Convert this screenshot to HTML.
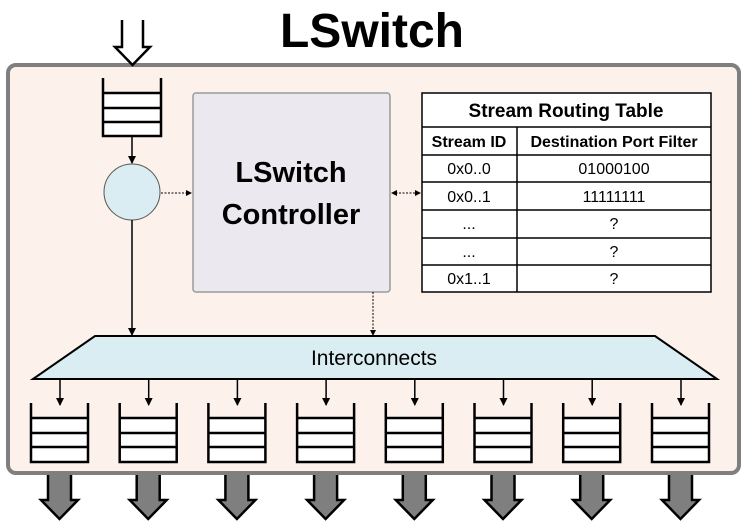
<!DOCTYPE html>
<html><head><meta charset="utf-8"><style>
html,body{margin:0;padding:0;background:#fff;}
svg{display:block;font-family:"Liberation Sans",sans-serif;}
</style></head><body>
<svg width="747" height="523" viewBox="0 0 747 523" xmlns="http://www.w3.org/2000/svg">
<defs>
<marker id="a" markerWidth="8" markerHeight="8" refX="7" refY="4" orient="auto" markerUnits="userSpaceOnUse"><path d="M0,0 L8,4 L0,8 z" fill="#000"/></marker>
<marker id="s" markerWidth="6" markerHeight="6" refX="5" refY="3" orient="auto-start-reverse" markerUnits="userSpaceOnUse"><path d="M0,0 L6,3 L0,6 z" fill="#000"/></marker>
</defs>
<text x="372" y="47" text-anchor="middle" font-size="48" font-weight="bold">LSwitch</text>
<rect x="8" y="65" width="731" height="408" rx="8" fill="#fdf1ec" stroke="#7f7f7f" stroke-width="4"/>
<!-- input arrow -->
<path d="M122,20 V47 H115 L132.5,65 L150,47 H143 V20" fill="#fff" stroke="#000" stroke-width="2.5"/>
<!-- input queue -->
<rect x="103" y="93" width="58" height="43" fill="#fff"/>
<path d="M103,78 V136 H161 V78 M103,93 H161 M103,108 H161 M103,122 H161" fill="none" stroke="#000" stroke-width="2.5"/>
<line x1="132" y1="136" x2="132" y2="163" stroke="#000" stroke-width="1.5" marker-end="url(#a)"/>
<circle cx="132" cy="192" r="28" fill="#daedf2" stroke="#555" stroke-width="1"/>
<line x1="132" y1="220" x2="132" y2="335" stroke="#000" stroke-width="1.5" marker-end="url(#a)"/>
<!-- controller -->
<rect x="193" y="93" width="197" height="199" rx="3" fill="#ebe8f0" stroke="#999" stroke-width="1.5"/>
<text x="291" y="182" text-anchor="middle" font-size="29" font-weight="bold">LSwitch</text>
<text x="291" y="224" text-anchor="middle" font-size="29" font-weight="bold">Controller</text>
<line x1="161" y1="193" x2="191" y2="193" stroke="#000" stroke-width="1" stroke-dasharray="2,1.5" marker-end="url(#s)"/>
<line x1="392" y1="193" x2="420" y2="193" stroke="#000" stroke-width="1" stroke-dasharray="2,1.5" marker-start="url(#s)" marker-end="url(#s)"/>
<line x1="373" y1="292" x2="373" y2="335" stroke="#000" stroke-width="1" stroke-dasharray="2,1.5" marker-end="url(#s)"/>
<!-- table -->
<g stroke="#000" stroke-width="1.5" fill="none">
<rect x="422" y="93" width="289" height="199" fill="#fff"/>
<path d="M422,127 H711 M422,155 H711 M422,182 H711 M422,210 H711 M422,238 H711 M422,265 H711 M517,127 V292"/>
</g>
<g font-size="16" text-anchor="middle">
<text x="566" y="117" font-size="19" font-weight="bold">Stream Routing Table</text>
<text x="469" y="147" font-weight="bold">Stream ID</text>
<text x="614" y="147" font-weight="bold">Destination Port Filter</text>
<text x="469" y="174">0x0..0</text><text x="614" y="174">01000100</text>
<text x="469" y="202">0x0..1</text><text x="614" y="202">11111111</text>
<text x="469" y="229">...</text><text x="614" y="229">?</text>
<text x="469" y="257">...</text><text x="614" y="257">?</text>
<text x="469" y="284">0x1..1</text><text x="614" y="284">?</text>
</g>
<!-- interconnects -->
<path d="M95,336 H655 L717,379 H33 z" fill="#daedf2" stroke="#000" stroke-width="2"/>
<text x="374" y="365" text-anchor="middle" font-size="21">Interconnects</text>
<g id="q">
<line x1="60" y1="379" x2="60" y2="405" stroke="#000" stroke-width="1.5" marker-end="url(#a)"/>
<rect x="31" y="418" width="57" height="44" fill="#fff"/>
<path d="M31,403 V462 H88 V403 M31,418 H88 M31,433 H88 M31,447 H88" fill="none" stroke="#000" stroke-width="2.5"/>
<path d="M48,475 V500 H41 L59.5,519 L78,500 H71 V475" fill="#7f7f7f" stroke="#000" stroke-width="2.5"/>
</g>
<use href="#q" x="88.7"/><use href="#q" x="177.4"/><use href="#q" x="266.1"/><use href="#q" x="354.8"/><use href="#q" x="443.5"/><use href="#q" x="532.2"/><use href="#q" x="621"/>
</svg>
</body></html>
